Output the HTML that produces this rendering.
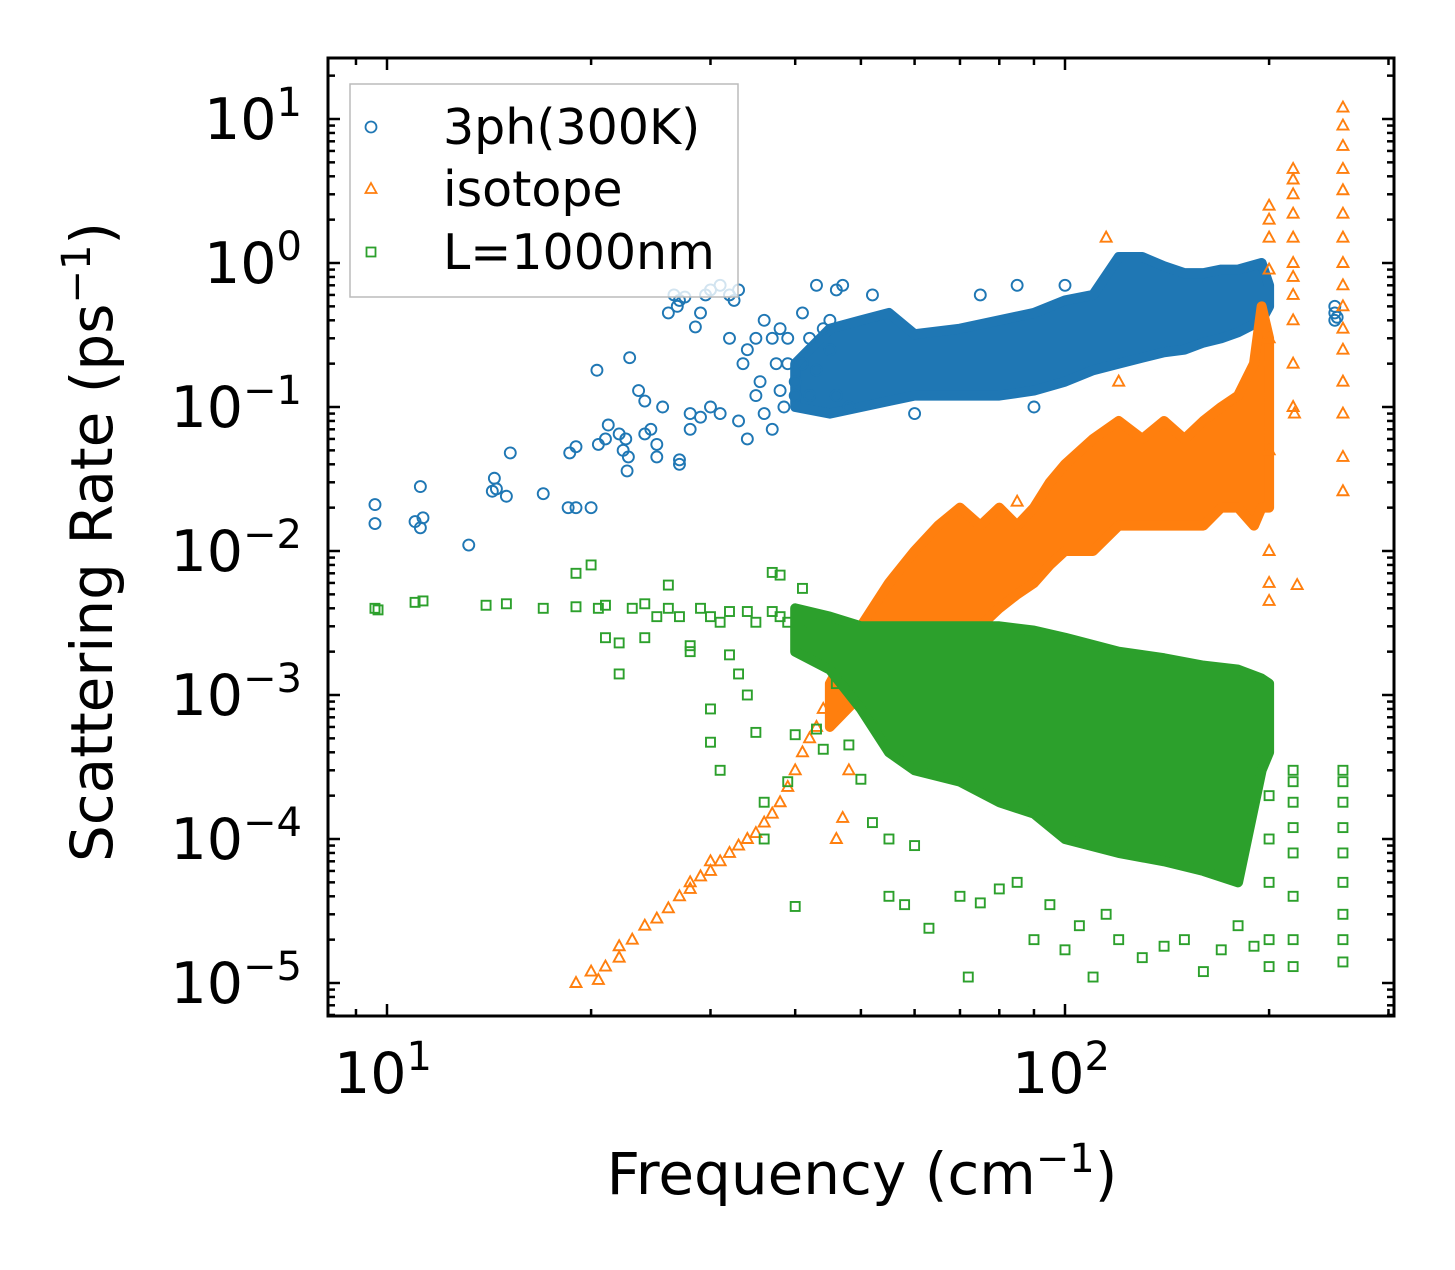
<!DOCTYPE html>
<html><head><meta charset="utf-8"><style>
html,body{margin:0;padding:0;background:#fff;}
svg text{font-family:"DejaVu Sans","Liberation Sans",sans-serif;fill:#000;}
</style></head><body>
<svg id="chart" width="1455" height="1265" viewBox="0 0 1455 1265" xmlns="http://www.w3.org/2000/svg">
<rect width="1455" height="1265" fill="#fff"/>
<defs><clipPath id="clip"><rect x="328" y="58" width="1066" height="958"/></clipPath></defs>
<g id="marks" clip-path="url(#clip)"></g>
<g id="axes"></g>
<g id="legend">
 <rect x="350" y="84" width="388" height="213" fill="#fff" fill-opacity="0.8" stroke="#bbb" stroke-width="1.5"/>
 <circle cx="371" cy="127" r="5.5" fill="none" stroke="#1f77b4" stroke-width="1.8"/>
 <text x="443" y="144" font-size="49">3ph(300K)</text>
 <path d="M371,183 L376.5,193 L365.5,193 Z" fill="none" stroke="#ff7f0e" stroke-width="1.8"/>
 <text x="443" y="206" font-size="49">isotope</text>
 <rect x="366.5" y="247.5" width="9" height="9" fill="none" stroke="#2ca02c" stroke-width="1.8"/>
 <text x="443" y="269" font-size="49">L=1000nm</text>
</g>
<text x="862" y="1194" font-size="58" text-anchor="middle">Frequency (cm<tspan dy="-22" font-size="40">−1</tspan><tspan dy="22">)</tspan></text>
<text transform="translate(112,542) rotate(-90)" font-size="58" text-anchor="middle">Scattering Rate (ps<tspan dy="-22" font-size="40">−1</tspan><tspan dy="22">)</tspan></text>
</svg>
<script>
// ---- data ----
const xTickValues=[10,100];
const xTickLabels=["1","2"];
const yTickValues=[1e1,1e0,1e-1,1e-2,1e-3,1e-4,1e-5];
const yTickLabels=["1","0","−1","−2","−3","−4","−5"];
// dense regions: [freq, low, high]
const phEnvelope=[[40,0.1,0.2],[45,0.09,0.35],[50,0.1,0.4],[55,0.11,0.45],[60,0.12,0.32],[70,0.12,0.35],[80,0.12,0.4],[90,0.13,0.45],[100,0.15,0.55],[110,0.18,0.6],[120,0.2,1.1],[130,0.22,1.1],[140,0.24,0.95],[150,0.25,0.85],[160,0.28,0.85],[170,0.3,0.9],[180,0.33,0.9],[195,0.4,1.0],[200,0.5,0.7]];
const phPoints=[[9.6,0.021],[9.6,0.0155],[11,0.016],[11.2,0.028],[11.3,0.017],[11.2,0.0145],[13.2,0.011],[14.3,0.026],[14.4,0.032],[14.5,0.027],[15,0.024],[15.2,0.048],[17,0.025],[18.5,0.02],[18.6,0.048],[19,0.053],[19,0.02],[20,0.02],[20.4,0.18],[20.5,0.055],[21,0.06],[21.2,0.075],[22,0.065],[22.3,0.05],[22.6,0.036],[22.7,0.045],[22.8,0.22],[22.5,0.06],[23.5,0.13],[24,0.11],[24,0.065],[24.5,0.07],[25,0.055],[25,0.045],[25.5,0.1],[26,0.45],[26.5,0.6],[26.8,0.5],[27,0.55],[27.5,0.58],[27,0.043],[27,0.04],[28,0.09],[28,0.07],[28.5,0.36],[29,0.085],[29,0.45],[29.5,0.6],[30,0.65],[30,0.1],[31,0.7],[31,0.09],[32,0.6],[32,0.3],[32.5,0.55],[33,0.65],[33,0.08],[33.5,0.2],[34,0.25],[34,0.06],[35,0.3],[35,0.12],[35.5,0.15],[36,0.4],[36,0.09],[37,0.3],[37,0.07],[37.5,0.2],[38,0.35],[38,0.13],[38.5,0.1],[39,0.3],[39,0.2],[40,0.15],[40,0.12],[41,0.45],[41,0.2],[42,0.3],[42,0.12],[43,0.7],[43,0.18],[44,0.35],[45,0.25],[45,0.4],[46,0.65],[46,0.12],[47,0.7],[48,0.1],[52,0.6],[60,0.09],[75,0.6],[85,0.7],[90,0.1],[100,0.7],[250,0.4],[250,0.45],[250,0.5],[252,0.42]];
const isoEnvelope=[[45,0.0006,0.0012],[50,0.001,0.003],[55,0.0015,0.006],[60,0.002,0.01],[65,0.003,0.015],[70,0.003,0.02],[75,0.003,0.015],[80,0.004,0.02],[85,0.005,0.015],[90,0.006,0.02],[95,0.008,0.03],[100,0.01,0.04],[110,0.01,0.06],[120,0.015,0.08],[130,0.015,0.06],[140,0.015,0.08],[150,0.015,0.06],[160,0.015,0.08],[170,0.02,0.1],[180,0.02,0.12],[190,0.015,0.2],[195,0.02,0.5],[200,0.02,0.3]];
const isoPoints=[[19,1e-5],[20,1.2e-5],[20.5,1.05e-5],[21,1.3e-5],[22,1.8e-5],[22,1.5e-5],[23,2e-5],[24,2.5e-5],[25,2.8e-5],[26,3.3e-5],[27,4e-5],[28,5e-5],[28,4.5e-5],[29,5.5e-5],[30,6e-5],[30,7e-5],[31,7e-5],[32,8e-5],[33,9e-5],[34,1e-4],[35,1.1e-4],[36,1.3e-4],[37,1.5e-4],[38,1.8e-4],[39,2.3e-4],[40,3e-4],[41,4e-4],[42,5e-4],[43,6e-4],[44,8e-4],[46,1e-4],[47,1.4e-4],[48,3e-4],[115,1.5],[85,0.022],[120,0.15],[200,0.0045],[200,0.006],[200,0.01],[200,0.05],[200,0.3],[200,0.9],[200,1.5],[200,2.0],[200,2.5],[217,0.1],[217,0.2],[217,0.4],[217,0.6],[217,0.8],[217,1.0],[217,1.5],[217,2.2],[217,3.0],[217,3.8],[217,4.5],[218,0.09],[220,0.0058],[257,0.026],[257,0.045],[257,0.09],[257,0.15],[257,0.25],[257,0.35],[257,0.5],[257,0.7],[257,1.0],[257,1.5],[257,2.2],[257,3.2],[257,4.5],[257,6.5],[257,9],[257,12]];
const bndEnvelope=[[40,0.002,0.004],[45,0.0015,0.0035],[50,0.0008,0.003],[55,0.0004,0.003],[60,0.0003,0.003],[70,0.00025,0.003],[80,0.00018,0.003],[90,0.00015,0.0028],[100,0.0001,0.0025],[120,0.00008,0.002],[140,0.00007,0.0018],[160,0.00006,0.0016],[180,0.00005,0.0015],[195,0.0003,0.0013],[200,0.0004,0.0012]];
const bndPoints=[[9.6,0.004],[9.7,0.0039],[11,0.0044],[11.3,0.0045],[14,0.0042],[15,0.0043],[17,0.004],[19,0.0041],[19,0.007],[20,0.008],[20.5,0.004],[21,0.0042],[21,0.0025],[22,0.0014],[22,0.0023],[23,0.004],[24,0.0043],[24,0.0025],[25,0.0035],[26,0.0058],[26,0.004],[27,0.0035],[28,0.0022],[28,0.002],[29,0.004],[30,0.0035],[30,0.0008],[30,0.00047],[31,0.0003],[31,0.0032],[32,0.0038],[32,0.0019],[33,0.0014],[34,0.0038],[34,0.001],[35,0.0032],[35,0.00055],[36,0.00018],[36,0.0001],[37,0.0071],[37,0.0038],[38,0.0035],[38,0.0068],[39,0.0032],[39,0.00025],[40,0.00053],[40,0.000034],[41,0.0055],[42,0.0028],[43,0.00058],[44,0.00042],[46,0.0012],[48,0.00045],[50,0.00026],[52,0.00013],[55,0.0001],[55,0.00004],[58,0.000035],[60,0.00009],[63,0.000024],[70,0.00004],[72,0.000011],[75,0.000036],[80,0.000045],[85,0.00005],[90,0.00002],[95,0.000035],[100,0.000017],[105,0.000025],[110,0.000011],[115,0.00003],[120,0.00002],[130,0.000015],[140,0.000018],[150,0.00002],[160,0.000012],[170,0.000017],[180,0.000025],[190,0.000018],[200,0.000013],[200,0.00002],[200,0.00005],[200,0.0001],[200,0.0002],[217,0.000013],[217,0.00002],[217,0.00004],[217,0.00008],[217,0.00012],[217,0.00018],[217,0.00025],[217,0.0003],[257,0.000014],[257,0.00002],[257,0.00003],[257,0.00005],[257,0.00008],[257,0.00012],[257,0.00018],[257,0.00025],[257,0.0003]];
// ---- axes functions ----
const X0=387,XD=678,Y0=263,YD=144;
function sx(v){return X0+XD*(Math.log10(v)-1);}
function sy(v){return Y0-YD*Math.log10(v);}
const NS="http://www.w3.org/2000/svg";
function mk(tag,attrs,parent){const e=document.createElementNS(NS,tag);for(const k in attrs)e.setAttribute(k,attrs[k]);parent.appendChild(e);return e;}
const marks=document.getElementById('marks');
function envelope(env,color,name){
  let d="M"+env.map(p=>sx(p[0])+","+sy(p[2])).join(" L")+" L"+env.slice().reverse().map(p=>sx(p[0])+","+sy(p[1])).join(" L")+" Z";
  const e=mk('path',{d:d,fill:color,stroke:color,'stroke-width':10,'stroke-linejoin':'round'},marks);
  
  
}
function pts(arr,color,shape,name){
  const g=mk('g',{},marks);
  
  
  arr.forEach(p=>{
    const x=sx(p[0]),y=sy(p[1]);let e;
    if(shape==='c')e=mk('circle',{cx:x,cy:y,r:5.5,fill:'none',stroke:color,'stroke-width':1.9},g);
    else if(shape==='t')e=mk('path',{d:`M${x},${y-6} L${x+5.5},${y+4} L${x-5.5},${y+4} Z`,fill:'none',stroke:color,'stroke-width':1.9},g);
    else e=mk('rect',{x:x-4.5,y:y-4.5,width:9,height:9,fill:'none',stroke:color,'stroke-width':1.9},g);
    
    
  });
}
envelope(phEnvelope,'#1f77b4','3ph-dense-region');
pts(phPoints,'#1f77b4','c','3ph-series');
envelope(isoEnvelope,'#ff7f0e','isotope-dense-region');
pts(isoPoints,'#ff7f0e','t','isotope-series');
envelope(bndEnvelope,'#2ca02c','boundary-dense-region');
pts(bndPoints,'#2ca02c','s','boundary-series');
// axes
const ax=document.getElementById('axes');
const L=328,R=1394,T=58,B=1016;
const fr=mk('rect',{x:L,y:T,width:R-L,height:B-T,fill:'none',stroke:'#000','stroke-width':3},ax);


function tick(x1,y1,x2,y2){mk('line',{x1:x1,y1:y1,x2:x2,y2:y2,stroke:'#000','stroke-width':2.5},ax);}
for(let dec=1;dec<=100;dec*=10){for(let m=1;m<10;m++){const v=dec*m;const x=sx(v);if(x<L||x>R)continue;const len=(m===1)?12:7;tick(x,B,x,B-len);tick(x,T,x,T+len);}}
for(let e=-6;e<=1;e++){for(let m=1;m<10;m++){const v=m*Math.pow(10,e);const y=sy(v);if(y<T||y>B)continue;const len=(m===1)?12:7;tick(L,y,L+len,y);tick(R,y,R-len,y);}}
xTickValues.forEach((v,i)=>{const t=mk('text',{x:sx(v)-4,y:1093,'font-size':57,'text-anchor':'middle'},ax);t.innerHTML='10<tspan dy="-23" font-size="40">'+xTickLabels[i]+'</tspan>';
 
 });
yTickValues.forEach((v,i)=>{const t=mk('text',{x:302,y:sy(v)+20,'font-size':57,'text-anchor':'end'},ax);t.innerHTML='10<tspan dy="-23" font-size="40">'+yTickLabels[i]+'</tspan>';
 
 });
</script>
</body></html>
